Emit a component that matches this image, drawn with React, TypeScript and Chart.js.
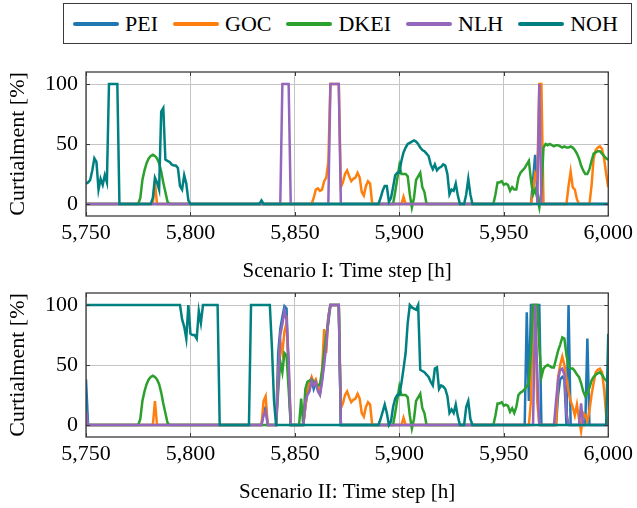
import React, { useEffect, useRef } from "react";
import { Chart, registerables } from "chart.js";

Chart.register(...registerables);

// A run is [first time step, values for consecutive steps]; steps not covered are 0 %.
type Run = [number, number[]];

const FIRST_STEP = 5750;
const LAST_STEP = 6000;
const X_TICKS = [5750, 5800, 5850, 5900, 5950, 6000];
const Y_TICKS = [0, 50, 100];
const Y_MIN = -10;
const Y_MAX = 110;

const SERIES_NAMES = ["PEI", "GOC", "DKEI", "NLH", "NOH"];
const SERIES_COLORS = ["#1f77b4", "#ff7f0e", "#2ca02c", "#9467bd", "#008080"];

const Y_TITLE = "Curtialment [%]";
const X_TITLE_1 = "Scenario I: Time step [h]";
const X_TITLE_2 = "Scenario II: Time step [h]";

// ---------- Scenario I ----------
const pei1: Run[] = [[5964, [20, 41, 10]]];

const goc1: Run[] = [
  [5783, [18]],
  [5859, [5, 12, 13, 11, 12, 19, 22, 35, 100, 100, 100, 100, 100, 14, 18, 25, 28, 23, 19, 21, 22, 26, 22, 10, 7, 15, 19, 17]],
  [5902, [6]],
  [5964, [10, 25, 20, 100, 100]],
  [5981, [15, 27, 14, 12, 4]],
  [5992, [15, 38, 45, 47, 48, 46, 38, 25, 14]],
];

const dkei1: Run[] = [
  [5776, [5, 20, 28, 34, 38, 40, 41, 40, 38, 34, 27, 18, 10, 2]],
  [5898, [10, 21, 32, 25, 25, 25, 23, 8, -3, 5, 20, 23, 26, 14, 10]],
  [5946, [8, 18, 18, 19, 16, 17, 16, 11, 14, 12, 12, 22, 26, 28, 30, 33, 36, 20, 8, 12, 5, -3, 10, 47, 50, 49, 50, 49, 48, 49, 49, 48, 47, 48, 47, 47, 48, 47, 45, 42, 38, 32, 28, 25, 25, 29, 36, 42, 43, 44, 44, 42, 40, 38, 37]],
];

const nlh1: Run[] = [
  [5844, [100, 100, 100, 100]],
  [5867, [100, 100, 100, 100, 100]],
  [5967, [100]],
];

const noh1: Run[] = [
  [5750, [17, 18, 20, 28, 38, 35, 12, 21, 16, 24, 18, 100, 100, 100, 100, 100]],
  [5782, [5, 22, 18, 12, 77, 80, 37, 36, 35, 33, 32, 32, 30, 15, 12, 24, 17, 3]],
  [5834, [3]],
  [5891, [5, 11, 15, 15, 2, 5, 14, 24, 26, 26, 36, 43, 47, 50, 51, 52, 53, 52, 50, 47, 45, 44, 42, 40, 33, 29, 33, 28, 30, 31, 33, 32, 25, 8, 12, 11, 17, 7]],
  [5932, [8, 21, 8]],
];

// ---------- Scenario II ----------
const pei2: Run[] = [
  [5750, [38]],
  [5835, [10, 15]],
  [5842, [60, 80, 90, 99, 97, 40]],
  [5855, [15, 28, 30, 38, 30, 35, 30, 26, 38, 55, 70, 90, 100, 100, 100, 100, 100]],
  [5961, [94, 20, 100, 100, 100, 100, 100]],
  [5976, [25, 38, 40, 38, 0, 100]],
  [5990, [72]],
];

const goc2: Run[] = [
  [5783, [20]],
  [5835, [20, 24]],
  [5842, [40, 70, 60, 78, 85, 50]],
  [5855, [15, 30, 35, 40, 35, 38, 32, 28, 45, 80, 60, 90, 100, 100, 100, 100, 100, 14, 18, 25, 28, 23, 19, 21, 22, 26, 22, 10, 7, 15, 19, 17]],
  [5902, [6]],
  [5963, [20, 100, 100, 20]],
  [5976, [40, 50, 57, 50, 38, 28, 20, 15, 8, 17, 5, -5, 10, 8, 3, 12, 25, 35, 44, 46, 47, 44, 30, 8]],
];

const dkei2: Run[] = [
  [5776, [5, 20, 28, 34, 38, 40, 41, 40, 38, 34, 27, 18, 10, 2]],
  [5842, [28, 53, 44, 60, 58, 30]],
  [5853, [22, 0, 30, 36, 37, 38, 36, 33, 33, 34, 45, 60, 75, 85, 100, 100, 100, 100, 100]],
  [5898, [10, 21, 32, 25, 25, 25, 23, 8, -3, 5, 20, 23, 26, 14, 10]],
  [5946, [8, 18, 18, 19, 16, 17, 16, 11, 14, 10, 15, 25, 27, 28, 30, 32, 35, 60, 100, 100, 100, 65, 40, 47, 49, 50, 49, 48, 48, 55, 62, 67, 73, 72, 58, 49, 47, 47, 45, 42, 40, 35, 28, 24, 27, 31, 37, 40, 42, 43, 44, 42, 39, 37, 36]],
];

const nlh2: Run[] = [
  [5750, [12]],
  [5835, [8, 12]],
  [5842, [35, 75, 84, 95, 88, 55]],
  [5855, [20, 25, 28, 37, 33, 36, 28, 25, 36, 50, 66, 88, 100, 100, 100, 100, 100]],
  [5965, [100, 45]],
  [5975, [20, 38, 46, 47, 42, 10]],
  [5987, [18]],
];

const noh2: Run[] = [
  [5750, [
    100, 100, 100, 100, 100, 100, 100, 100, 100, 100,
    100, 100, 100, 100, 100, 100, 100, 100, 100, 100,
    100, 100, 100, 100, 100, 100, 100, 100, 100, 100,
    100, 100, 100, 100, 100, 100, 100, 100, 100, 100,
    100, 100, 100, 100, 100, 100,
    88, 82, 72, 100, 76, 75, 75, 72, 95, 85,
    100, 100, 100, 100, 100, 100, 100, 100,
  ]],
  [5829, [100, 100, 100, 100, 100, 100, 100, 100, 100, 100, 65, 20]],
  [5891, [5, 11, 17, 10, 0, 3, 15, 22, 25, 25, 35, 47, 60, 85, 100, 98, 97, 96, 100, 46, 45, 44, 42, 40, 36, 33, 47, 48, 30, 33, 32, 30, 24, 10, 13, 10, 17, 7]],
  [5932, [15, 20, 5]],
  [6000, [76]],
];

const SCENARIO_1: Run[][] = [pei1, goc1, dkei1, nlh1, noh1];
const SCENARIO_2: Run[][] = [pei2, goc2, dkei2, nlh2, noh2];

const FONT_FAMILY = '"Liberation Serif", "Times New Roman", serif';
const GRID_COLOR = "#c4c4c4";
const FRAME_COLOR = "#3a3a3a";

function expand(runs: Run[]) {
  const byStep = new Map<number, number>();
  for (const [start, values] of runs) {
    values.forEach((v, i) => byStep.set(start + i, v));
  }
  const points: { x: number; y: number }[] = [];
  for (let t = FIRST_STEP; t <= LAST_STEP; t++) {
    points.push({ x: t, y: byStep.get(t) ?? 0 });
  }
  return points;
}

// Closed axis box with short inward tick marks on every side.
const framePlugin = {
  id: "frame",
  afterDatasetsDraw(chart: any) {
    const { ctx, chartArea, scales } = chart;
    const { left, right, top, bottom } = chartArea;
    const len = 4;
    ctx.save();
    ctx.strokeStyle = FRAME_COLOR;
    ctx.lineWidth = 1;
    ctx.beginPath();
    for (const v of X_TICKS) {
      const px = Math.round(scales.x.getPixelForValue(v)) + 0.5;
      ctx.moveTo(px, bottom);
      ctx.lineTo(px, bottom - len);
      ctx.moveTo(px, top);
      ctx.lineTo(px, top + len);
    }
    for (const v of Y_TICKS) {
      const py = Math.round(scales.y.getPixelForValue(v)) + 0.5;
      ctx.moveTo(left, py);
      ctx.lineTo(left + len, py);
      ctx.moveTo(right, py);
      ctx.lineTo(right - len, py);
    }
    ctx.stroke();
    ctx.lineWidth = 1.3;
    ctx.strokeRect(left, top, right - left, bottom - top);
    ctx.restore();
  },
};

function CurtailmentPanel({ runs, xTitle, top }: { runs: Run[][]; xTitle: string; top: number }) {
  const ref = useRef<HTMLCanvasElement>(null);

  useEffect(() => {
    const canvas = ref.current;
    if (!canvas) return;
    const chart = new Chart(canvas, {
      type: "line",
      data: {
        datasets: SERIES_NAMES.map((name, i) => ({
          label: name,
          data: expand(runs[i]),
          borderColor: SERIES_COLORS[i],
          backgroundColor: SERIES_COLORS[i],
          borderWidth: 2.5,
          pointRadius: 0,
          tension: 0,
          fill: false,
          order: SERIES_NAMES.length - 1 - i,
        })),
      },
      options: {
        animation: false,
        responsive: false,
        events: [],
        layout: { padding: { top: 72, right: 28, left: 0, bottom: 0 } },
        plugins: { legend: { display: false }, tooltip: { enabled: false } },
        scales: {
          x: {
            type: "linear",
            min: FIRST_STEP,
            max: LAST_STEP,
            afterBuildTicks: (s: any) => {
              s.ticks = X_TICKS.map((value) => ({ value }));
            },
            afterFit: (s: any) => {
              s.height = 71;
            },
            grid: { color: GRID_COLOR, lineWidth: 1, drawTicks: false },
            border: { display: false },
            ticks: {
              padding: 4,
              color: "#000",
              maxRotation: 0,
              autoSkip: false,
              font: { family: FONT_FAMILY, size: 22 },
              callback: (v: any) => Number(v).toLocaleString("en-US"),
            },
            title: {
              display: true,
              text: xTitle,
              color: "#000",
              font: { family: FONT_FAMILY, size: 21 },
              padding: { top: 0, bottom: 3 },
            },
          },
          y: {
            min: Y_MIN,
            max: Y_MAX,
            afterBuildTicks: (s: any) => {
              s.ticks = Y_TICKS.map((value) => ({ value }));
            },
            afterFit: (s: any) => {
              s.width = 86;
            },
            grid: { color: GRID_COLOR, lineWidth: 1, drawTicks: false },
            border: { display: false },
            ticks: {
              padding: 8,
              color: "#000",
              font: { family: FONT_FAMILY, size: 22 },
            },
            title: {
              display: true,
              text: Y_TITLE,
              color: "#000",
              font: { family: FONT_FAMILY, size: 22 },
              padding: { top: 5, bottom: 0 },
            },
          },
        },
      },
      plugins: [framePlugin],
    });
    return () => chart.destroy();
  }, [runs, xTitle]);

  return (
    <canvas
      ref={ref}
      width={637}
      height={287}
      style={{ position: "absolute", left: 0, top, width: 637, height: 287 }}
    />
  );
}

function Legend() {
  return (
    <div
      style={{
        position: "absolute",
        left: 63,
        top: 3,
        width: 569,
        height: 41,
        boxSizing: "border-box",
        border: `1px solid ${FRAME_COLOR}`,
        display: "flex",
        alignItems: "center",
        paddingLeft: 9,
        gap: 15,
        fontFamily: FONT_FAMILY,
        fontSize: 22,
        color: "#000",
        background: "#fff",
        zIndex: 2,
      }}
    >
      {SERIES_NAMES.map((name, i) => (
        <div key={name} style={{ display: "flex", alignItems: "center" }}>
          <span
            style={{
              display: "inline-block",
              width: 46,
              height: 4,
              borderRadius: 2,
              background: SERIES_COLORS[i],
              marginRight: 6,
            }}
          />
          <span>{name}</span>
        </div>
      ))}
    </div>
  );
}

export default function App() {
  return (
    <div
      style={{
        position: "fixed",
        left: 0,
        top: 0,
        width: 637,
        height: 508,
        background: "#fff",
        overflow: "hidden",
      }}
    >
      <CurtailmentPanel runs={SCENARIO_1} xTitle={X_TITLE_1} top={0} />
      <CurtailmentPanel runs={SCENARIO_2} xTitle={X_TITLE_2} top={221} />
      <Legend />
    </div>
  );
}
